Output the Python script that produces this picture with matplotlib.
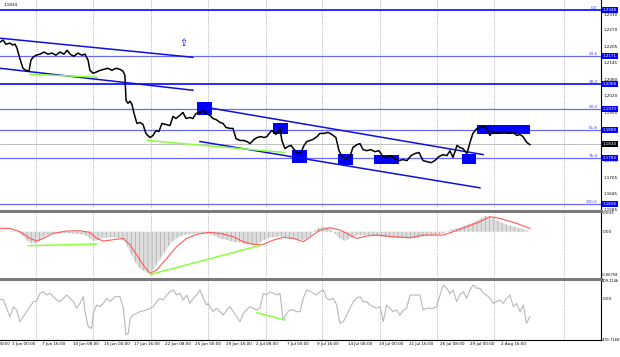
import matplotlib
matplotlib.use("Agg")
import matplotlib.pyplot as plt
import matplotlib.transforms as mtransforms
from matplotlib.patches import Rectangle

# ---- EURUSD H4, x = bar index ----
price_bar = [0, 1.6, 3.1, 5.2, 6.8, 7.9, 8.9, 9.9, 11, 12, 13.6, 15.2, 16.2, 17.3, 18.9, 21, 23, 25.1,
             27.2, 29.3, 31.4, 33.5, 35.1, 36.7, 38.7, 40.8, 42.9, 44.5, 46.1, 47.1, 48.7, 50.3, 52.4,
             54.5, 56.5, 58.6, 60.7, 62.8, 64.4, 65.4, 66, 67, 68.1, 69.1, 70.2, 71.7, 73.3, 74.9, 76.4,
             78.5, 80.1, 81.7, 83.2, 84.8, 86.9, 89, 90.6, 92.1, 94.2, 95.8, 97.4, 99.5, 101, 102.6,
             104.7, 106.3, 107.9, 109.9, 111.5, 113.1, 115.2, 116.8, 118.3, 120.4, 122, 123.6, 125.7,
             127.7, 129.3, 130.9, 133, 134.6, 136.6, 138.2, 139.8, 141.4, 142.4, 144.5, 146.6, 147.6,
             149.2, 150.8, 152.4, 154.5, 156, 157.6, 159.2, 160.7, 162.3, 163.9, 166, 167.5, 169.6,
             171.7, 173.8, 175.9, 177.5, 179.1, 181.2, 183.2, 184.8, 186.9, 188.5, 190.1, 192.1, 194.2,
             196.3, 198.4, 200.5, 202.6, 204.7, 206.8, 208.9, 211, 213.1, 215.2, 217.3, 219.4, 221.5,
             223.6, 225.7, 227.7, 229.8, 231.9, 234, 235.6, 237.2, 239.3, 240.8, 242.4, 244.5, 246.1,
             247.6, 249.7, 251.3, 253.4, 255, 256.5, 258.1, 260.2, 262.3, 264.4, 266.5, 268.6, 270.7,
             272.3, 273.8, 275.9, 277.5]
price_close = [1.2225, 1.2233, 1.2217, 1.2221, 1.2214, 1.2217, 1.2202, 1.2175, 1.2148, 1.2125, 1.2117,
               1.2114, 1.2156, 1.2167, 1.2175, 1.2179, 1.2187, 1.2179, 1.2183, 1.2175, 1.2187, 1.2179,
               1.2194, 1.2179, 1.2171, 1.2183, 1.2175, 1.2179, 1.2156, 1.2117, 1.2106, 1.2110, 1.2117,
               1.2121, 1.2125, 1.2117, 1.2125, 1.2121, 1.2114, 1.2098, 1.2002, 1.1991, 1.1999, 1.1987,
               1.1952, 1.1914, 1.1918, 1.1910, 1.1876, 1.1860, 1.1868, 1.1887, 1.1883, 1.1914, 1.1910,
               1.1906, 1.1941, 1.1933, 1.1945, 1.1956, 1.1933, 1.1937, 1.1933, 1.1952, 1.1956, 1.1964,
               1.1952, 1.1945, 1.1933, 1.1929, 1.1918, 1.1914, 1.1899, 1.1895, 1.1895, 1.1856, 1.1849,
               1.1849, 1.1845, 1.1837, 1.1853, 1.1860, 1.1864, 1.1860, 1.1864, 1.1880, 1.1887, 1.1872,
               1.1895, 1.1849, 1.1818, 1.1826, 1.1830, 1.1810, 1.1799, 1.1803, 1.1830, 1.1845, 1.1849,
               1.1853, 1.1864, 1.1876, 1.1876, 1.1880, 1.1872, 1.1860, 1.1810, 1.1787, 1.1780, 1.1787,
               1.1822, 1.1833, 1.1837, 1.1814, 1.1810, 1.1814, 1.1806, 1.1810, 1.1787, 1.1784, 1.1791,
               1.1780, 1.1772, 1.1776, 1.1772, 1.1791, 1.1799, 1.1803, 1.1772, 1.1768, 1.1764, 1.1772,
               1.1787, 1.1795, 1.1791, 1.1810, 1.1784, 1.1830, 1.1822, 1.1818, 1.1799, 1.1841, 1.1876,
               1.1895, 1.1899, 1.1902, 1.1895, 1.1868, 1.1883, 1.1876, 1.1880, 1.1883, 1.1876, 1.1880,
               1.1868, 1.1872, 1.1864, 1.1841, 1.1833]
last_price = 1.1834

fib_names = ["0.0", "23.6", "38.2", "50.0", "61.8", "76.4", "100.0"]
fib_prices = [1.2348, 1.2171, 1.2066, 1.1970, 1.1890, 1.1782, 1.1606]
price_ticks = [1.2330, 1.2270, 1.2205, 1.2145, 1.2080, 1.2020, 1.1955, 1.1770, 1.1705, 1.1645, 1.1585]

box_bar0 = [103, 143, 153, 177, 196, 242, 250]
box_bar1 = [111, 151, 161, 185, 209, 249, 277.5]
box_lo = [1.1945, 1.1872, 1.1764, 1.1757, 1.1760, 1.1760, 1.1872]
box_hi = [1.1995, 1.1914, 1.1814, 1.1799, 1.1795, 1.1799, 1.1910]

chan_bars = [[0, 101], [0, 101], [111, 253], [104.7, 251.3]]
chan_prices = [[1.2240, 1.2167], [1.2125, 1.2041], [1.1972, 1.1795], [1.1845, 1.1668]]
green_price_bars = [[15.7, 50.8], [77, 149.2]]
green_price_vals = [[1.2102, 1.2091], [1.1849, 1.1803]]

# MACD
hist_bar = [0, 3.5, 7, 9.6, 11.3, 13.1, 14.8, 16.6, 18.3, 20.1, 21.8, 23.6, 26.2, 29.7, 33.2, 36.6, 40.1,
            43.6, 46.2, 48, 49.7, 51.5, 53.2, 55.8, 59.3, 62.8, 65.4, 67.2, 68.9, 70.7, 72.4, 74.2, 75.9,
            77.7, 79.4, 81.2, 82.9, 84.6, 86.4, 88.1, 89.9, 91.6, 93.4, 95.1, 97.7, 101.2, 104.7, 108.2,
            111.7, 115.2, 118.7, 122.2, 125.7, 129.1, 132.6, 135.3, 137.9, 141.4, 144.9, 148.3, 151.8,
            155.3, 158.8, 162.3, 164.9, 167.5, 170.2, 172.8, 175.4, 178, 180.6, 183.2, 185.9, 190.2,
            195.5, 200.7, 205.9, 211.2, 216.4, 221.6, 226.9, 232.1, 234.7, 237.3, 240.8, 244.3, 247.8,
            251.3, 253.9, 256.5, 260, 263.5, 267, 270.5, 274, 276.6]
hist_val = [0.00011, 0, 0.00011, -0.00011, -0.00055, -0.0011, -0.00165, -0.00193, -0.00193, -0.00165,
            -0.0011, -0.00066, -0.00044, -0.000275, -0.00022, -0.000275, -0.00033, -0.00044, -0.000825,
            -0.001375, -0.00154, -0.001375, -0.0011, -0.00099, -0.000935, -0.0011, -0.00165, -0.00275,
            -0.00385, -0.00495, -0.005775, -0.006325, -0.0066, -0.006875, -0.0066, -0.005775, -0.00495,
            -0.004125, -0.0033, -0.002475, -0.00176, -0.001265, -0.000935, -0.00066, -0.00044, -0.00033,
            -0.000275, -0.000275, -0.00055, -0.0011, -0.001375, -0.00165, -0.00176, -0.00209, -0.0022,
            -0.001925, -0.001375, -0.00099, -0.000825, -0.000825, -0.0011, -0.001265, -0.001375, -0.0008,
            0.000275, 0.00066, 0.000825, 0.00044, -0.000275, -0.0011, -0.00154, -0.0011, -0.00066,
            -0.00055, -0.00066, -0.000825, -0.00099, -0.0011, -0.0011, -0.000825, -0.00066, -0.000275,
            0.00011, 0.00044, 0.00066, 0.0011, 0.00154, 0.00209, 0.00264, 0.002475, 0.001925, 0.001375,
            0.00099, 0.00066, 0.000385, 0.00011]
signal_bar = [0, 5.2, 10.5, 15.7, 19.2, 22.7, 27.9, 34.9, 41.9, 47.1, 50.6, 54.1, 59.3, 64.6, 68.1,
              71.6, 75, 78.5, 82, 87.3, 92.5, 97.7, 103, 109.1, 115.2, 122.2, 127.4, 132.6, 137.9,
              143.1, 148.3, 153.6, 158.8, 162.3, 167.5, 172.8, 178, 183.2, 186.7, 192, 197.2, 206,
              214.7, 221.6, 232.1, 237.3, 244.3, 251.3, 256.5, 261.8, 270.5, 277.5]
signal_val = [0.00055, 0.00055, 0, -0.0011, -0.00154, -0.0011, -0.000275, 0.00011, 0.000165, -0.00011,
              -0.0011, -0.00154, -0.00132, -0.0011, -0.0022, -0.00385, -0.0055, -0.006875, -0.006325,
              -0.0044, -0.002475, -0.0011, -0.00044, -0.00011, -0.000275, -0.000825, -0.00165, -0.00209,
              -0.00209, -0.001375, -0.000935, -0.0011, -0.00165, -0.0009, 0.000275, 0.00066, 0.000275,
              -0.00055, -0.0011, -0.000715, -0.00055, -0.000825, -0.00099, -0.00055, -0.00055, 0,
              0.000825, 0.00165, 0.002475, 0.0022, 0.001375, 0.00055]
green_macd_bars = [[14.8, 50.6], [79, 137]]
green_macd_vals = [[-0.00231, -0.00204], [-0.00704, -0.0022]]

# CCI
cci_bar = [0, 1.7, 3.5, 5.2, 7, 8.7, 10.5, 12.2, 14, 15.7, 17.5, 19.2, 20.9, 22.7, 24.4, 26.2, 27.9,
           29.7, 31.4, 33.2, 34.9, 36.6, 38.4, 40.1, 41.9, 43.6, 44.5, 46.2, 48, 48.9, 50.6, 52.4, 54.1,
           55.8, 57.6, 60.2, 62.8, 64.6, 66, 67.2, 68.1, 69.8, 73.3, 76.8, 78.5, 80.3, 82, 83.8, 85.5,
           87.3, 89, 90.8, 92.5, 94.2, 96, 97.7, 99.5, 101.2, 103, 104.7, 106.5, 108.2, 109.1, 109.9,
           111.7, 113.4, 115.2, 116.9, 118.7, 120.4, 122.2, 123.9, 125.7, 127.4, 129.1, 130.9, 132.6,
           134.4, 136.1, 137.9, 139.6, 141.4, 143.1, 144.9, 146.6, 148.3, 150.1, 151.8, 153.6, 155.3,
           157.1, 158.8, 160.6, 162.3, 164.1, 165.8, 167.5, 169.3, 171, 172.8, 174.5, 176.3, 178,
           179.8, 181.5, 183.2, 185, 186.7, 188.5, 190.2, 192, 193.7, 195.5, 197.2, 199, 200.7, 202.4,
           204.2, 205.9, 207.7, 209.4, 211.2, 212.9, 214.7, 216.4, 218.1, 219.9, 221.6, 223.4, 225.1,
           226.9, 228.6, 230.4, 232.1, 233.9, 235.6, 237.3, 239.1, 240.8, 242.6, 244.3, 246.1, 247.8,
           249.6, 251.3, 253.1, 254.8, 256.5, 258.3, 260, 261.8, 263.5, 265.3, 267, 268.8, 270.5,
           272.3, 274, 275.7, 277.5]
cci_val = [-32, -25, -128, -224, -109, -147, -281, -224, -166, -109, -51, -44, 44, 63, 25, 44, 6, -32,
           -51, -13, 25, -13, -51, -128, -71, 6, -166, -339, -358, -185, -90, -109, -71, -13, -51, 6, 6,
           -128, -434, -415, -243, -205, -166, -147, -128, -109, -51, -13, -32, 25, 63, 83, 25, 44, -32,
           25, -71, -13, 25, 83, -13, -90, -71, -109, -166, -128, -166, -205, -147, -109, -166, -224,
           -281, -185, -147, -109, -128, -147, -128, 44, 25, 63, 44, 25, 44, -262, -185, -147, -147,
           -166, -166, -13, 83, 70, 44, 25, 63, 83, -13, -32, -13, -90, -300, -281, -205, -128, -51,
           -13, 6, -51, -51, -90, -109, -128, -109, -281, -90, -128, -166, -147, -205, -147, -128, 25,
           25, 25, 25, -147, -128, -128, -128, -109, 25, 140, 102, 44, 83, -51, 25, 63, -13, 83, 140,
           102, 102, 44, 25, -13, -71, -51, -32, -71, -13, 25, -109, -71, -166, -90, -300, -224]
green_cci_bars = [134.4, 149.2]
green_cci_vals = [-178, -262]

# time axis (first label is only partly visible in the source, shown as its tail)
grid_bars = [18.8, 48.7, 79.1, 108.9, 139.3, 168.6, 199.0, 228.8, 258.6, 295.3]
date_bars = [0.0, 6.2, 22.2, 38.2, 54.2, 70.2, 86.2, 102.2, 118.2, 134.2, 150.2, 166.2, 182.2,
             198.2, 214.2, 230.2, 246.2, 262.2]
date_labels = ["00:00", "3 Jun 00:00", "7 Jun 16:00", "10 Jun 08:00", "15 Jun 00:00",
               "17 Jun 16:00", "22 Jun 08:00", "25 Jun 00:00", "29 Jun 16:00", "2 Jul 08:00",
               "7 Jul 00:00", "9 Jul 16:00", "14 Jul 08:00", "19 Jul 00:00", "21 Jul 16:00",
               "26 Jul 08:00", "29 Jul 00:00", "2 Aug 16:00"]

FS = 3.0
FS_SMALL = 2.6
BLUE = "#0000ff"
XMAX = 314.7

plt.rcParams["hatch.linewidth"] = 0.5

fig = plt.figure(figsize=(6.2, 3.57), dpi=100)
ax_p = fig.add_axes([0, 0.41457, 0.96935, 0.58543])
ax_m = fig.add_axes([0, 0.22409, 0.96935, 0.18487])
ax_c = fig.add_axes([0, 0.04762, 0.96935, 0.17087])

for ax in (ax_p, ax_m, ax_c):
    ax.set_xlim(0, XMAX)
    ax.set_xticks([])
    ax.set_yticks([])
    ax.spines["left"].set_visible(False)
    ax.spines["bottom"].set_visible(False)
    ax.spines["right"].set_color("black")
    ax.spines["right"].set_linewidth(0.8)
    for gb in grid_bars:
        ax.axvline(gb, color="#888888", ls=(0, (1, 1.5)), lw=0.5, zorder=0)
ax_p.spines["top"].set_visible(False)
for ax in (ax_m, ax_c):
    ax.spines["top"].set_color("#7a7a7a")
    ax.spines["top"].set_linewidth(2.2)
ax_c.spines["bottom"].set_visible(True)
ax_c.spines["bottom"].set_linewidth(0.8)

# ---- price panel ----
ax_p.set_ylim(1.1587, 1.2386)
ax_p.axhline(last_price, color="#c0c0c0", lw=0.7, zorder=1)
tr = mtransforms.blended_transform_factory(ax_p.transAxes, ax_p.transData)
for name, lvl in zip(fib_names, fib_prices):
    strong = name in ("0.0", "38.2")
    ax_p.axhline(lvl, color="#2a2aff" if strong else "#6a6aff", lw=1.4 if strong else 0.9, zorder=1)
    ax_p.text(0.994, lvl, name, transform=tr, ha="right", va="bottom", fontsize=FS, color="#4040ff")
for b0, b1, lo, hi in zip(box_bar0, box_bar1, box_lo, box_hi):
    ax_p.add_patch(Rectangle((b0, lo), b1 - b0, hi - lo, facecolor=BLUE, edgecolor="none", zorder=2))
for bx, py in zip(chan_bars, chan_prices):
    ax_p.plot(bx, py, color="#1010dd", lw=1.1, zorder=3)
for bx, py in zip(green_price_bars, green_price_vals):
    ax_p.plot(bx, py, color="#8cff3c", lw=1.1, zorder=3)
ax_p.plot(price_bar, price_close, color="black", lw=1.1, zorder=4)
ax_p.text(95.8, 1.2221, "\u21e7", ha="center", va="center", fontsize=7, color=BLUE, zorder=5)
ax_p.text(0.006, 0.985, "1.1834", transform=ax_p.transAxes, ha="left", va="top", fontsize=FS)

for t in price_ticks:
    ax_p.text(1.004, t, f"{t:.4f}", transform=tr, ha="left", va="center", fontsize=FS, clip_on=False)
for lvl in fib_prices:
    ax_p.text(1.003, lvl, f"{lvl:.4f}", transform=tr, ha="left", va="center", fontsize=FS, color="white",
              bbox=dict(boxstyle="square,pad=0.25", fc=BLUE, ec="none"), clip_on=False)
ax_p.text(1.003, last_price, f"{last_price:.4f}", transform=tr, ha="left", va="center", fontsize=FS,
          color="white", bbox=dict(boxstyle="square,pad=0.25", fc="black", ec="none"), clip_on=False)

# ---- MACD panel ----
ax_m.set_ylim(-0.00748, 0.00342)
ax_m.fill_between(hist_bar, 0, hist_val, facecolor="#dedede", edgecolor="#a9a9a9", hatch="||||",
                  lw=0, zorder=1)
ax_m.plot(signal_bar, signal_val, color="#ff5a5a", lw=0.8, zorder=3)
for bx, vy in zip(green_macd_bars, green_macd_vals):
    ax_m.plot(bx, vy, color="#8cff3c", lw=1.1, zorder=4)
trm = mtransforms.blended_transform_factory(ax_m.transAxes, ax_m.transData)
ax_m.text(1.003, 0.00342, "0.003", transform=trm, ha="left", va="top", fontsize=FS)
ax_m.text(1.003, 0, "0.00", transform=trm, ha="left", va="center", fontsize=FS)
ax_m.text(1.002, -0.00748, "-0.00758", transform=trm, ha="left", va="bottom", fontsize=FS_SMALL)

# ---- CCI panel ----
ax_c.set_ylim(-491.8, 209.1)
ax_c.plot(cci_bar, cci_val, color="#b8b8b8", lw=0.8, zorder=2)
ax_c.plot(green_cci_bars, green_cci_vals, color="#8cff3c", lw=1.1, zorder=3)
trc = mtransforms.blended_transform_factory(ax_c.transAxes, ax_c.transData)
ax_c.text(1.002, 209.1, "209.1146", transform=trc, ha="left", va="top", fontsize=FS_SMALL)
ax_c.text(1.003, 0, "0.00", transform=trc, ha="left", va="top", fontsize=FS)
ax_c.text(1.002, -491.8, "-491.7168", transform=trc, ha="left", va="center", fontsize=FS_SMALL)

trd = mtransforms.blended_transform_factory(ax_c.transData, ax_c.transAxes)
for b, lab in zip(date_bars, date_labels):
    ax_c.text(b, -0.03, lab, transform=trd, ha="left", va="top",
              fontsize=2.7 if lab == "00:00" else FS, clip_on=False)

fig.savefig("out.png", dpi=100)
